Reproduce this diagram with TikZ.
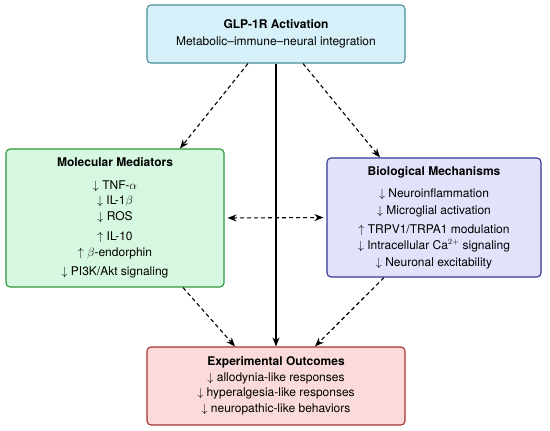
\documentclass[tikz,border=0pt]{standalone}
\usepackage{fontspec}
\setmainfont{TeX Gyre Heros}
\usetikzlibrary{arrows.meta,calc}
\definecolor{topfill}{HTML}{D6F1F9}
\definecolor{topdraw}{HTML}{4A8E9C}
\definecolor{mmfill}{HTML}{D6F7E0}
\definecolor{mmdraw}{HTML}{2A9A3A}
\definecolor{biofill}{HTML}{E2E2FA}
\definecolor{biodraw}{HTML}{36369A}
\definecolor{outfill}{HTML}{FADADA}
\definecolor{outdraw}{HTML}{A83232}
\tikzset{
  box/.style={rectangle, rounded corners=4pt, line width=1.1pt, align=center,
    inner sep=0pt, font=\fontsize{12}{16}\selectfont},
  conn/.style={line width=1.1pt, -{Stealth[length=9pt,width=7pt]}},
  dconn/.style={conn, dash pattern=on 4pt off 3pt},
}
\begin{document}
\begin{tikzpicture}[x=1pt,y=-1pt]
\useasboundingbox (0,0) rectangle (550,431);
\node[box, fill=topfill, draw=topdraw, minimum width=258pt, minimum height=58pt] (top) at (276,34)
  {\textbf{GLP-1R Activation}\\[1pt] Metabolic–immune–neural integration};
\node[box, fill=mmfill, draw=mmdraw, minimum width=218pt, minimum height=138pt] (mm) at (115,218)
  {\textbf{Molecular Mediators}\\[7pt]
   $\downarrow$ TNF-$\alpha$\\[-1pt]
   $\downarrow$ IL-1$\beta$\\
   $\downarrow$ ROS\\[4pt]
   $\uparrow$ IL-10\\
   $\uparrow$ $\beta$-endorphin\\[3pt]
   $\downarrow$ PI3K/Akt signaling};
\node[box, fill=biofill, draw=biodraw, minimum width=214pt, minimum height=119pt] (bio) at (434,217.5)
  {\textbf{Biological Mechanisms}\\[6pt]
   $\downarrow$ Neuroinflammation\\[1pt]
   $\downarrow$ Microglial activation\\[3pt]
   $\uparrow$ TRPV1/TRPA1 modulation\\
   $\downarrow$ Intracellular Ca$^{2+}$ signaling\\[1pt]
   $\downarrow$ Neuronal excitability};
\node[box, fill=outfill, draw=outdraw, minimum width=258pt, minimum height=78pt] (out) at (276,386)
  {\textbf{Experimental Outcomes}\\
   $\downarrow$ allodynia-like responses\\[-1pt]
   $\downarrow$ hyperalgesia-like responses\\
   $\downarrow$ neuropathic-like behaviors};
\draw[conn] (top.south) -- (out.north);
\draw[dconn] ($(top.south)+(-28,0)$) -- ($(mm.north)+(65,0)$);
\draw[dconn] ($(top.south)+(27,0)$) -- ($(bio.north)+(-54,0)$);
\draw[dconn] ($(mm.south)+(68,0)$) -- ($(out.north)+(-41,0)$);
\draw[dconn] ($(bio.south)+(-50,0)$) -- ($(out.north)+(39,0)$);
\draw[dconn, {Stealth[length=9pt,width=7pt]}-{Stealth[length=9pt,width=7pt]}, shorten <=3pt, shorten >=3pt] (mm.east) -- (bio.west);
\end{tikzpicture}
\end{document}
